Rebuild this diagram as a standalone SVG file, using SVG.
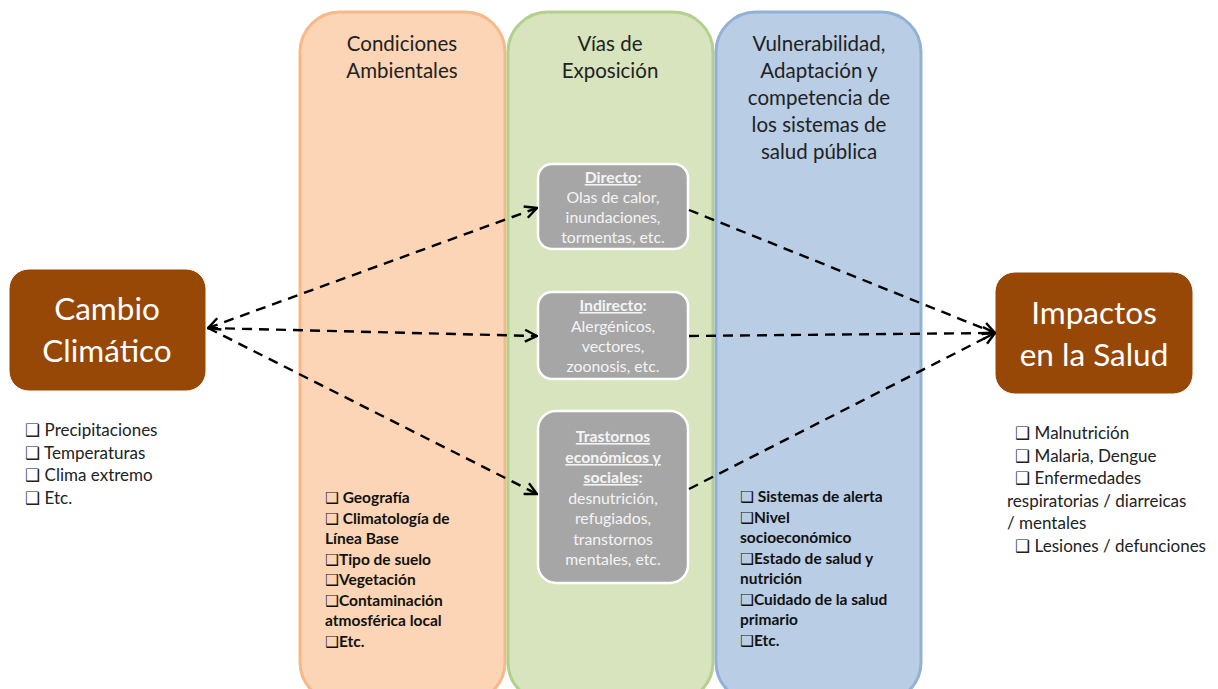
<svg xmlns="http://www.w3.org/2000/svg" width="1218" height="689" viewBox="0 0 1218 689">
<defs>
<marker id="arr" viewBox="0 0 12 12" refX="11" refY="6" markerWidth="6" markerHeight="6" orient="auto-start-reverse" markerUnits="strokeWidth">
<path d="M1,1 L11,6 L1,11" fill="none" stroke="#000" stroke-width="2"/>
</marker>
<style>
.t{font-family:Lato,"Open Sans","Liberation Sans",sans-serif;fill:#222;}
.col{font-size:20.5px;text-anchor:middle;}
.big{font-size:31.5px;fill:#fff;text-anchor:middle;}
.lst{font-size:17px;}
.bl{font-size:15.5px;font-weight:bold;fill:#111;}
.gb{font-size:15.8px;fill:#f4f4f4;text-anchor:middle;}
.gbox{fill:#a6a6a6;stroke:#fff;stroke-width:2.5;}
.brown{fill:#974706;stroke:#fff;stroke-width:1;}
.cb{font-family:"DejaVu Sans",sans-serif;font-weight:bold;}
.con{fill:none;stroke:#000;stroke-width:2.4;stroke-dasharray:10,7;}
</style>
</defs>

<g id="col-ambiental">
<rect x="300" y="12" width="205" height="690" rx="40" fill="#fbd5b5" stroke="#f8b888" stroke-width="3"/>
<text class="t col" x="402" y="51">Condiciones</text>
<text class="t col" x="402" y="78">Ambientales</text>
<text class="t bl" x="325" y="503"><tspan class="cb">❑</tspan> Geografía</text>
<text class="t bl" x="325" y="524"><tspan class="cb">❑</tspan> Climatología de</text>
<text class="t bl" x="325" y="544">Línea Base</text>
<text class="t bl" x="325" y="565"><tspan class="cb">❑</tspan>Tipo de suelo</text>
<text class="t bl" x="325" y="585"><tspan class="cb">❑</tspan>Vegetación</text>
<text class="t bl" x="325" y="606"><tspan class="cb">❑</tspan>Contaminación</text>
<text class="t bl" x="325" y="626">atmosférica local</text>
<text class="t bl" x="325" y="647"><tspan class="cb">❑</tspan>Etc.</text>
</g>

<g id="col-exposicion">
<rect x="508" y="12" width="205" height="690" rx="40" fill="#d7e4bd" stroke="#b3d08c" stroke-width="3"/>
<text class="t col" x="610" y="51">Vías de</text>
<text class="t col" x="610" y="78">Exposición</text>
</g>

<g id="col-vulnerabilidad">
<rect x="716" y="12" width="205" height="690" rx="40" fill="#b9cde5" stroke="#93b1d6" stroke-width="3"/>
<text class="t col" x="819" y="51">Vulnerabilidad,</text>
<text class="t col" x="819" y="78">Adaptación y</text>
<text class="t col" x="819" y="105">competencia de</text>
<text class="t col" x="819" y="132">los sistemas de</text>
<text class="t col" x="819" y="159">salud pública</text>
<text class="t bl" x="740" y="502"><tspan class="cb">❑</tspan> Sistemas de alerta</text>
<text class="t bl" x="740" y="523"><tspan class="cb">❑</tspan>Nivel</text>
<text class="t bl" x="740" y="543">socioeconómico</text>
<text class="t bl" x="740" y="564"><tspan class="cb">❑</tspan>Estado de salud y</text>
<text class="t bl" x="740" y="584">nutrición</text>
<text class="t bl" x="740" y="605"><tspan class="cb">❑</tspan>Cuidado de la salud</text>
<text class="t bl" x="740" y="625">primario</text>
<text class="t bl" x="740" y="646"><tspan class="cb">❑</tspan>Etc.</text>
</g>

<g id="directo">
<rect class="gbox" x="538" y="164" width="150" height="85" rx="14"/>
<text class="t gb" x="613" y="183"><tspan font-weight="bold" text-decoration="underline">Directo</tspan><tspan font-weight="bold">:</tspan></text>
<text class="t gb" x="613" y="203">Olas de calor,</text>
<text class="t gb" x="613" y="223">inundaciones,</text>
<text class="t gb" x="613" y="243">tormentas, etc.</text>
</g>

<g id="indirecto">
<rect class="gbox" x="538" y="292" width="150" height="87" rx="14"/>
<text class="t gb" x="613" y="311"><tspan font-weight="bold" text-decoration="underline">Indirecto</tspan><tspan font-weight="bold">:</tspan></text>
<text class="t gb" x="613" y="332">Alergénicos,</text>
<text class="t gb" x="613" y="352">vectores,</text>
<text class="t gb" x="613" y="372">zoonosis, etc.</text>
</g>

<g id="trastornos">
<rect class="gbox" x="538" y="411" width="150" height="172" rx="18"/>
<text class="t gb" x="613" y="442" font-weight="bold" text-decoration="underline">Trastornos</text>
<text class="t gb" x="613" y="463" font-weight="bold" text-decoration="underline">económicos y</text>
<text class="t gb" x="613" y="483"><tspan font-weight="bold" text-decoration="underline">sociales</tspan><tspan font-weight="bold">:</tspan></text>
<text class="t gb" x="613" y="504">desnutrición,</text>
<text class="t gb" x="613" y="524">refugiados,</text>
<text class="t gb" x="613" y="545">transtornos</text>
<text class="t gb" x="613" y="565">mentales, etc.</text>
</g>

<g id="cambio">
<rect class="brown" x="9" y="269" width="197" height="122" rx="20"/>
<text class="t big" x="107" y="320">Cambio</text>
<text class="t big" x="107" y="362">Climático</text>
<text class="t lst" x="25" y="436"><tspan class="cb">❑</tspan> Precipitaciones</text>
<text class="t lst" x="25" y="459"><tspan class="cb">❑</tspan> Temperaturas</text>
<text class="t lst" x="25" y="481"><tspan class="cb">❑</tspan> Clima extremo</text>
<text class="t lst" x="25" y="504"><tspan class="cb">❑</tspan> Etc.</text>
</g>

<g id="impactos">
<rect class="brown" x="995" y="272" width="198" height="122" rx="20"/>
<text class="t big" x="1094" y="324">Impactos</text>
<text class="t big" x="1094" y="366">en la Salud</text>
<text class="t lst" x="1015" y="439"><tspan class="cb">❑</tspan> Malnutrición</text>
<text class="t lst" x="1015" y="462"><tspan class="cb">❑</tspan> Malaria, Dengue</text>
<text class="t lst" x="1015" y="484"><tspan class="cb">❑</tspan> Enfermedades</text>
<text class="t lst" x="1007" y="507">respiratorias / diarreicas</text>
<text class="t lst" x="1007" y="529">/ mentales</text>
<text class="t lst" x="1015" y="552"><tspan class="cb">❑</tspan> Lesiones / defunciones</text>
</g>

<g id="connectors">
<line class="con" x1="537" y1="208" x2="208" y2="328" marker-start="url(#arr)" marker-end="url(#arr)"/>
<line class="con" x1="208" y1="328" x2="537" y2="336" marker-end="url(#arr)"/>
<line class="con" x1="208" y1="328" x2="537" y2="494" marker-end="url(#arr)"/>
<line class="con" x1="689" y1="210" x2="995" y2="333" marker-end="url(#arr)"/>
<line class="con" x1="689" y1="336" x2="995" y2="333" marker-end="url(#arr)"/>
<line class="con" x1="689" y1="489" x2="995" y2="333" marker-end="url(#arr)"/>
</g>
</svg>
